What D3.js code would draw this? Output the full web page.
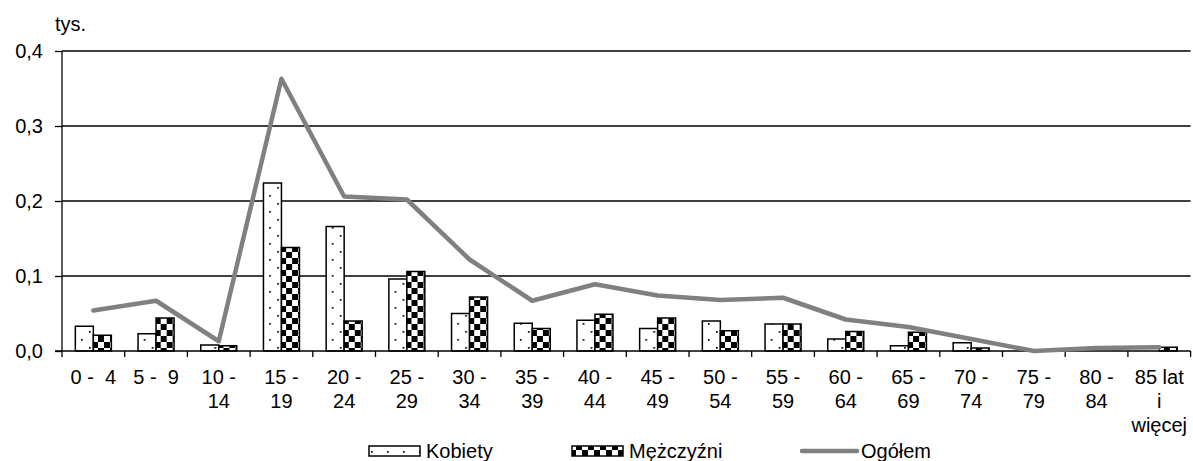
<!DOCTYPE html>
<html>
<head>
<meta charset="utf-8">
<script src="https://cdn.jsdelivr.net/npm/d3@7/dist/d3.min.js"></script>
<style>
  html, body { margin: 0; padding: 0; background: #fff; }
  svg text { font-family: "Liberation Sans", Arial, sans-serif; font-size: 20px; fill: #000; white-space: pre; }
</style>
</head>
<body>
<svg id="chart" width="1193" height="461"></svg>
<script>
// ---- data ----
const categories = [
  "0 -  4", "5 -  9", "10 -\n14", "15 -\n19", "20 -\n24", "25 -\n29",
  "30 -\n34", "35 -\n39", "40 -\n44", "45 -\n49", "50 -\n54", "55 -\n59",
  "60 -\n64", "65 -\n69", "70 -\n74", "75 -\n79", "80 -\n84", "85 lat\ni\nwięcej"
];
const kobiety    = [0.033, 0.023, 0.008, 0.224, 0.166, 0.096, 0.050, 0.037, 0.041, 0.030, 0.040, 0.036, 0.016, 0.007, 0.011, 0.000, 0.000, 0.000];
const mezczyzni  = [0.021, 0.044, 0.007, 0.138, 0.040, 0.106, 0.072, 0.030, 0.049, 0.044, 0.027, 0.036, 0.026, 0.025, 0.004, 0.000, 0.000, 0.005];
const ogolem     = [0.054, 0.067, 0.013, 0.363, 0.206, 0.202, 0.122, 0.067, 0.089, 0.074, 0.068, 0.071, 0.042, 0.032, 0.016, 0.000, 0.004, 0.005];
const yTickValues = [0, 0.1, 0.2, 0.3, 0.4];
const unitLabel = "tys.";
const seriesNames = ["Kobiety", "Mężczyźni", "Ogółem"];

(function () {
// ---- layout ----
const svg = d3.select("#chart");
const pLeft = 62, pRight = 1190.6, pTop = 51, pBottom = 351;

const defs = svg.append("defs");
const dots = defs.append("pattern").attr("id", "dots").attr("patternUnits", "userSpaceOnUse")
  .attr("width", 16).attr("height", 16);
dots.append("rect").attr("width", 16).attr("height", 16).attr("fill", "#fff");
dots.append("rect").attr("x", 3).attr("y", 3).attr("width", 1.7).attr("height", 1.7).attr("fill", "#000");
dots.append("rect").attr("x", 11).attr("y", 11).attr("width", 1.7).attr("height", 1.7).attr("fill", "#000");

const check = defs.append("pattern").attr("id", "check").attr("patternUnits", "userSpaceOnUse")
  .attr("width", 12).attr("height", 12);
check.append("rect").attr("width", 12).attr("height", 12).attr("fill", "#fff");
check.append("rect").attr("x", 0).attr("y", 0).attr("width", 6).attr("height", 6).attr("fill", "#000");
check.append("rect").attr("x", 6).attr("y", 6).attr("width", 6).attr("height", 6).attr("fill", "#000");

const x = d3.scaleBand().domain(d3.range(categories.length)).range([pLeft, pRight]).padding(0);
const bw = x.bandwidth();
const barW = 18;
const pOuter = (bw / barW - 2) / 2;
const x1 = d3.scaleBand().domain(["k", "m"]).range([0, bw]).paddingInner(0).paddingOuter(pOuter);
const y = d3.scaleLinear().domain([0, 0.4]).range([pBottom, pTop]);

const locale = d3.formatLocale({decimal: ",", thousands: " ", grouping: [3], currency: ["", " zł"]});
const fmt = locale.format(".1f");

// y axis ticks + labels
const yAxis = d3.axisLeft(y).tickValues(yTickValues).tickSize(7).tickPadding(12).tickFormat(fmt);
const gy = svg.append("g").attr("transform", `translate(${pLeft},0)`).call(yAxis);
gy.select(".domain").remove();
gy.selectAll(".tick line").attr("stroke", "#000").attr("stroke-width", 1.3);
gy.selectAll(".tick text").attr("font-size", null).attr("font-family", null).style("font-size", "20px");

// gridlines
svg.append("g").selectAll("line").data(yTickValues.filter(d => d > 0)).join("line")
  .attr("x1", pLeft).attr("x2", pRight)
  .attr("y1", d => y(d)).attr("y2", d => y(d))
  .attr("stroke", "#000").attr("stroke-width", 1.3);

// bars
const groups = svg.append("g").selectAll("g").data(categories.map((c, i) => i)).join("g")
  .attr("transform", i => `translate(${x(i)},0)`);
groups.append("rect")
  .attr("x", x1("k")).attr("width", x1.bandwidth())
  .attr("y", i => y(kobiety[i])).attr("height", i => y(0) - y(kobiety[i]))
  .attr("fill", "url(#dots)").attr("stroke", i => kobiety[i] > 0 ? "#000" : "none").attr("stroke-width", 1.5);
groups.append("rect")
  .attr("x", x1("m")).attr("width", x1.bandwidth())
  .attr("y", i => y(mezczyzni[i])).attr("height", i => y(0) - y(mezczyzni[i]))
  .attr("fill", "url(#check)").attr("stroke", i => mezczyzni[i] > 0 ? "#000" : "none").attr("stroke-width", 1.5);

// x axis
const xAxis = d3.axisBottom(x).tickSize(0).tickFormat(() => "");
const gx = svg.append("g").attr("transform", `translate(0,${pBottom})`).call(xAxis);
gx.select(".domain").attr("stroke", "#000").attr("stroke-width", 1.3).attr("d", `M${pLeft - 7},0H${pRight}`);
gx.selectAll(".tick").remove();
svg.append("g").selectAll("line").data(d3.range(categories.length + 1)).join("line")
  .attr("x1", i => pLeft + i * bw).attr("x2", i => pLeft + i * bw)
  .attr("y1", pBottom).attr("y2", pBottom + 6)
  .attr("stroke", "#000").attr("stroke-width", 1.3);
// y axis line
svg.append("line").attr("x1", pLeft).attr("x2", pLeft).attr("y1", pTop).attr("y2", pBottom)
  .attr("stroke", "#000").attr("stroke-width", 1.3);

// category labels
const lab = svg.append("g").selectAll("text").data(categories).join("text")
  .attr("text-anchor", "middle")
  .attr("transform", (d, i) => `translate(${x(i) + bw / 2},384)`);
lab.selectAll("tspan").data(d => d.split("\n")).join("tspan")
  .attr("x", 0).attr("y", (d, j) => j * 24).text(d => d);

// line
const line = d3.line().x((d, i) => x(i) + bw / 2).y(d => y(d));
svg.append("path").datum(ogolem).attr("d", line)
  .attr("fill", "none").attr("stroke", "#808080").attr("stroke-width", 4.5)
  .attr("stroke-linejoin", "round").attr("stroke-linecap", "round");

// unit label
svg.append("text").attr("x", 55).attr("y", 31).text(unitLabel);

// legend
const leg = svg.append("g");
const legY = 451;
const legendItems = [
  {name: seriesNames[0], x: 369, type: "dots"},
  {name: seriesNames[1], x: 572, type: "check"},
  {name: seriesNames[2], x: 802, type: "line"}
];
legendItems.forEach(it => {
  if (it.type === "line") {
    leg.append("line").attr("x1", it.x).attr("x2", it.x + 55).attr("y1", legY).attr("y2", legY)
      .attr("stroke", "#808080").attr("stroke-width", 4.5).attr("stroke-linecap", "round");
    leg.append("text").attr("x", it.x + 59).attr("y", legY + 7).text(it.name);
  } else {
    leg.append("rect").attr("x", it.x).attr("y", legY - 5).attr("width", 51).attr("height", 10)
      .attr("fill", `url(#${it.type})`).attr("stroke", "#000").attr("stroke-width", 1.5);
    leg.append("text").attr("x", it.x + 57).attr("y", legY + 7).text(it.name);
  }
});
})();
</script>
</body>
</html>
